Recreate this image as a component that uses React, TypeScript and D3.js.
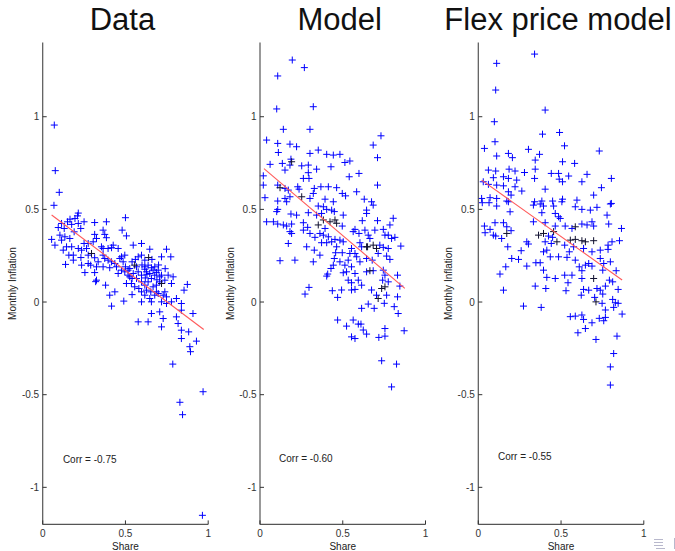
import React from "react";
import * as d3 from "d3";

type P = [number, number];

const titles = ["Data", "Model", "Flex price model"];
const corrLabels = ["Corr = -0.75", "Corr = -0.60", "Corr = -0.55"];
const xTicks = [0, 0.5, 1];
const yTicks = [-1, -0.5, 0, 0.5, 1];
const xDomain: [number, number] = [0, 1];
const yDomain: [number, number] = [-1.2, 1.4];
const xLabel = "Share";
const yLabel = "Monthly Inflation";

// Panel 1: Data
const dataBlue: P[] = [
  [0.070, 0.955], [0.076, 0.709], [0.100, 0.592], [0.068, 0.522], [0.215, 0.480], [0.500, 0.455],
  [0.210, 0.465], [0.165, 0.447], [0.195, 0.451], [0.250, 0.433], [0.150, 0.433], [0.114, 0.424],
  [0.094, 0.402], [0.130, 0.397], [0.175, 0.419], [0.215, 0.424], [0.230, 0.397], [0.190, 0.379],
  [0.054, 0.338], [0.074, 0.307], [0.104, 0.361], [0.114, 0.334], [0.144, 0.298], [0.134, 0.352],
  [0.175, 0.298], [0.124, 0.280], [0.158, 0.253], [0.138, 0.203], [0.185, 0.253], [0.185, 0.226],
  [0.231, 0.240], [0.235, 0.199], [0.255, 0.159], [0.215, 0.289], [0.250, 0.316], [0.275, 0.316],
  [0.265, 0.289], [0.235, 0.280], [0.275, 0.253], [0.314, 0.239], [0.335, 0.217], [0.164, 0.343],
  [0.325, 0.190], [0.314, 0.159], [0.325, 0.118], [0.275, 0.208], [0.290, 0.199], [0.314, 0.429],
  [0.385, 0.433], [0.365, 0.388], [0.375, 0.365], [0.385, 0.347], [0.314, 0.365], [0.325, 0.343],
  [0.305, 0.325], [0.355, 0.298], [0.365, 0.289], [0.395, 0.289], [0.416, 0.293], [0.426, 0.307],
  [0.456, 0.289], [0.365, 0.253], [0.375, 0.235], [0.395, 0.226], [0.416, 0.217], [0.436, 0.208],
  [0.365, 0.190], [0.405, 0.185], [0.380, 0.091], [0.436, 0.055], [0.405, 0.037], [0.416, -0.022],
  [0.490, 0.005], [0.480, 0.388], [0.506, 0.357], [0.547, 0.307], [0.597, 0.316], [0.647, 0.285],
  [0.748, 0.285], [0.718, 0.244], [0.774, 0.244], [0.466, 0.235], [0.486, 0.217], [0.500, 0.190],
  [0.526, 0.181], [0.540, 0.217], [0.577, 0.244], [0.617, 0.226], [0.597, 0.253], [0.637, 0.199],
  [0.657, 0.185], [0.677, 0.190], [0.698, 0.172], [0.617, 0.177], [0.597, 0.145],
  [0.577, 0.163], [0.547, 0.154], [0.516, 0.145], [0.506, 0.100], [0.536, 0.100], [0.556, 0.082],
  [0.581, 0.073], [0.617, 0.091], [0.637, 0.109], [0.657, 0.127], [0.677, 0.145], [0.707, 0.136],
  [0.758, 0.145], [0.788, 0.136], [0.778, 0.100], [0.738, 0.055], [0.738, 0.118], [0.597, 0.001],
  [0.677, 0.037], [0.657, 0.001], [0.647, 0.019], [0.617, 0.037], [0.718, 0.001], [0.698, 0.046],
  [0.748, -0.008], [0.778, 0.001], [0.808, 0.019], [0.838, -0.008], [0.838, -0.044], [0.854, 0.064],
  [0.874, 0.095], [0.707, -0.053], [0.728, -0.089], [0.657, -0.062], [0.637, -0.107], [0.577, -0.107],
  [0.808, -0.080], [0.818, -0.116], [0.838, -0.152], [0.882, -0.161], [0.908, -0.062], [0.838, -0.197],
  [0.929, -0.211], [0.718, -0.134], [0.597, 0.055], [0.627, 0.064], [0.687, 0.091], [0.718, 0.145],
  [0.567, 0.190], [0.526, 0.136], [0.476, 0.172], [0.456, 0.154], [0.446, 0.190], [0.496, 0.253],
  [0.476, 0.244], [0.969, -0.484], [0.829, -0.541], [0.845, -0.608], [0.786, -0.335], [0.965, -1.151],
  [0.889, -0.241], [0.893, -0.268], [0.320, 0.110], [0.600, 0.200], [0.630, 0.150], [0.690, 0.120],
  [0.560, 0.230], [0.660, 0.230], [0.700, 0.200], [0.620, 0.130], [0.740, 0.180], [0.540, 0.040],
  [0.617, 0.190], [0.627, 0.163], [0.647, 0.154], [0.667, 0.172], [0.687, 0.160], [0.707, 0.109],
  [0.687, 0.055], [0.653, 0.055], [0.728, 0.037], [0.748, 0.028], [0.667, 0.082], [0.597, 0.109],
  [0.567, 0.127], [0.540, 0.127], [0.516, 0.172], [0.496, 0.163],
];
const dataBlack: P[] = [
  [0.295, 0.262], [0.556, 0.199], [0.718, 0.100], [0.640, 0.240],
];
const dataFitX = [0.054, 0.973];
const dataFitY = [0.47, -0.148];

// Panel 2: Model
const modelBlue: P[] = [
  [0.195, 1.306], [0.268, 1.265], [0.107, 1.220], [0.101, 1.042], [0.322, 1.054], [0.141, 0.932],
  [0.302, 0.932], [0.731, 0.897], [0.040, 0.874], [0.107, 0.856], [0.181, 0.852], [0.221, 0.838],
  [0.684, 0.847], [0.111, 0.807], [0.352, 0.820], [0.302, 0.802], [0.187, 0.771],
  [0.403, 0.797], [0.443, 0.793], [0.483, 0.797], [0.710, 0.779], [0.061, 0.743], [0.135, 0.748],
  [0.181, 0.739], [0.292, 0.739], [0.252, 0.735], [0.342, 0.717], [0.429, 0.730], [0.513, 0.753],
  [0.543, 0.761], [0.151, 0.712], [0.292, 0.698], [0.598, 0.694], [0.539, 0.676], [0.020, 0.681],
  [0.262, 0.667], [0.296, 0.667], [0.020, 0.631], [0.107, 0.631], [0.151, 0.613],
  [0.171, 0.604], [0.228, 0.622], [0.236, 0.609], [0.328, 0.613], [0.368, 0.622], [0.413, 0.622],
  [0.463, 0.617], [0.497, 0.586], [0.517, 0.573], [0.584, 0.595], [0.710, 0.631], [0.030, 0.563],
  [0.107, 0.545], [0.151, 0.559], [0.181, 0.568], [0.302, 0.559], [0.322, 0.586],
  [0.393, 0.555], [0.443, 0.541], [0.630, 0.555], [0.674, 0.541], [0.161, 0.541],
  [0.107, 0.500], [0.101, 0.488], [0.187, 0.475], [0.221, 0.469], [0.040, 0.433], [0.081, 0.433],
  [0.107, 0.421], [0.141, 0.416], [0.161, 0.410], [0.191, 0.421], [0.181, 0.380], [0.191, 0.370],
  [0.262, 0.428], [0.262, 0.388], [0.288, 0.403], [0.302, 0.370], [0.332, 0.349],
  [0.362, 0.370], [0.393, 0.397], [0.497, 0.410], [0.503, 0.469],
  [0.449, 0.488], [0.372, 0.478], [0.352, 0.518], [0.383, 0.514], [0.403, 0.500], [0.433, 0.496],
  [0.292, 0.482], [0.342, 0.469], [0.644, 0.496], [0.644, 0.478], [0.684, 0.523], [0.618, 0.439],
  [0.710, 0.439], [0.805, 0.452], [0.785, 0.416], [0.745, 0.392], [0.694, 0.388], [0.634, 0.388],
  [0.563, 0.380], [0.574, 0.392], [0.598, 0.370], [0.654, 0.361], [0.664, 0.343], [0.755, 0.361],
  [0.775, 0.361], [0.815, 0.349], [0.795, 0.343], [0.383, 0.361], [0.413, 0.352], [0.433, 0.325],
  [0.453, 0.338], [0.483, 0.334], [0.503, 0.325], [0.403, 0.320], [0.372, 0.320], [0.171, 0.316],
  [0.282, 0.298], [0.328, 0.280], [0.362, 0.253], [0.463, 0.298], [0.457, 0.266], [0.497, 0.266],
  [0.543, 0.262], [0.574, 0.262], [0.553, 0.289], [0.604, 0.320], [0.614, 0.298],
  [0.724, 0.307], [0.745, 0.295], [0.775, 0.289], [0.851, 0.302],
  [0.714, 0.262], [0.765, 0.248], [0.785, 0.230], [0.678, 0.226], [0.644, 0.235], [0.604, 0.217],
  [0.584, 0.244], [0.533, 0.226], [0.483, 0.217], [0.449, 0.235], [0.443, 0.199], [0.429, 0.181],
  [0.409, 0.151], [0.403, 0.140], [0.121, 0.223], [0.211, 0.226], [0.322, 0.217], [0.513, 0.199],
  [0.553, 0.190], [0.574, 0.154], [0.523, 0.163], [0.503, 0.158], [0.533, 0.118], [0.553, 0.104],
  [0.594, 0.118], [0.614, 0.091], [0.644, 0.163], [0.684, 0.169],
  [0.745, 0.172], [0.755, 0.145], [0.831, 0.145], [0.741, 0.118], [0.775, 0.109], [0.845, 0.086],
  [0.296, 0.079], [0.272, 0.043], [0.437, 0.061], [0.493, 0.065], [0.469, 0.025], [0.553, 0.065],
  [0.574, 0.068], [0.674, 0.065], [0.704, 0.037], [0.765, 0.037],
  [0.751, -0.007], [0.831, 0.028], [0.614, -0.034], [0.654, -0.011], [0.690, -0.034],
  [0.811, -0.025], [0.835, -0.062], [0.469, -0.097], [0.523, -0.130], [0.563, -0.097], [0.594, -0.119],
  [0.610, -0.119], [0.624, -0.151], [0.644, -0.173], [0.553, -0.188], [0.574, -0.197], [0.718, -0.191],
  [0.755, -0.184], [0.755, -0.143], [0.871, -0.155], [0.735, -0.317], [0.825, -0.335], [0.795, -0.458],
];
const modelBlack: P[] = [
  [0.121, 0.617], [0.191, 0.757], [0.252, 0.568], [0.383, 0.443], [0.423, 0.433], [0.453, 0.443],
  [0.463, 0.425], [0.352, 0.416], [0.644, 0.298], [0.684, 0.307], [0.704, 0.289], [0.735, 0.073],
  [0.755, 0.082], [0.714, 0.019], [0.664, 0.169], [0.650, 0.298],
];
const modelFitX = [0.024, 0.875];
const modelFitY = [0.72, 0.074];

// Panel 3: Flex price model
const flexBlue: P[] = [
  [0.340, 1.338], [0.111, 1.288], [0.105, 1.144], [0.404, 1.036], [0.097, 0.973], [0.388, 0.906],
  [0.491, 0.915], [0.101, 0.865], [0.521, 0.843], [0.037, 0.829], [0.303, 0.824], [0.370, 0.797],
  [0.182, 0.802], [0.206, 0.779], [0.111, 0.788], [0.731, 0.815], [0.344, 0.766], [0.509, 0.757],
  [0.582, 0.748], [0.061, 0.712], [0.105, 0.707], [0.186, 0.717], [0.222, 0.707], [0.279, 0.699],
  [0.344, 0.717], [0.441, 0.694], [0.485, 0.694], [0.546, 0.680], [0.657, 0.689], [0.091, 0.671],
  [0.152, 0.676], [0.182, 0.667], [0.232, 0.658], [0.340, 0.667], [0.489, 0.663], [0.509, 0.649],
  [0.626, 0.649], [0.804, 0.667], [0.030, 0.649], [0.061, 0.635], [0.111, 0.631], [0.152, 0.627],
  [0.222, 0.622], [0.263, 0.599], [0.404, 0.609], [0.744, 0.617], [0.182, 0.595], [0.198, 0.577],
  [0.697, 0.577], [0.020, 0.559], [0.071, 0.563], [0.111, 0.559], [0.172, 0.545], [0.340, 0.541],
  [0.384, 0.545], [0.449, 0.545], [0.509, 0.555], [0.596, 0.550], [0.804, 0.532],
  [0.024, 0.536], [0.065, 0.536], [0.111, 0.518], [0.182, 0.541], [0.192, 0.487], [0.333, 0.523],
  [0.374, 0.529], [0.394, 0.518], [0.384, 0.482], [0.455, 0.518], [0.465, 0.478], [0.505, 0.541],
  [0.586, 0.514], [0.626, 0.500], [0.677, 0.496], [0.717, 0.511], [0.798, 0.529], [0.778, 0.469],
  [0.485, 0.460], [0.495, 0.451], [0.333, 0.433], [0.404, 0.428], [0.465, 0.410], [0.525, 0.410],
  [0.566, 0.397], [0.626, 0.421], [0.657, 0.416], [0.687, 0.433], [0.697, 0.410],
  [0.788, 0.421], [0.865, 0.397], [0.037, 0.410], [0.071, 0.392], [0.041, 0.374], [0.101, 0.428],
  [0.152, 0.428], [0.172, 0.406], [0.198, 0.385], [0.091, 0.361], [0.105, 0.356],
  [0.141, 0.343], [0.293, 0.325], [0.303, 0.313], [0.424, 0.356],
  [0.449, 0.349], [0.404, 0.325], [0.441, 0.316], [0.522, 0.307],
  [0.576, 0.298], [0.550, 0.271], [0.636, 0.289], [0.687, 0.271], [0.737, 0.280], [0.784, 0.307],
  [0.808, 0.325], [0.853, 0.331], [0.784, 0.284], [0.178, 0.298], [0.259, 0.277], [0.202, 0.235],
  [0.243, 0.230], [0.394, 0.271], [0.414, 0.280], [0.435, 0.244], [0.485, 0.244], [0.536, 0.241],
  [0.586, 0.226], [0.610, 0.190], [0.647, 0.199], [0.667, 0.208], [0.687, 0.194], [0.737, 0.235],
  [0.758, 0.208], [0.752, 0.172], [0.798, 0.217], [0.833, 0.169], [0.166, 0.190], [0.131, 0.151],
  [0.293, 0.194], [0.348, 0.212], [0.374, 0.212], [0.394, 0.172], [0.414, 0.133], [0.465, 0.127],
  [0.522, 0.145], [0.566, 0.145], [0.626, 0.127], [0.626, 0.169], [0.542, 0.104],
  [0.530, 0.061], [0.636, 0.068], [0.667, 0.064], [0.717, 0.073], [0.737, 0.064], [0.768, 0.086],
  [0.792, 0.118], [0.812, 0.109], [0.845, 0.068], [0.152, 0.064], [0.344, 0.086], [0.408, 0.073],
  [0.622, 0.037], [0.703, 0.025], [0.752, 0.043], [0.812, 0.014], [0.828, -0.004],
  [0.845, -0.007], [0.818, -0.029], [0.748, -0.007], [0.768, -0.043], [0.273, -0.022], [0.380, -0.029],
  [0.556, -0.079], [0.586, -0.076], [0.626, -0.070], [0.636, -0.094], [0.687, -0.112], [0.731, -0.088],
  [0.758, -0.101], [0.768, -0.083], [0.869, -0.065], [0.647, -0.143], [0.602, -0.166], [0.711, -0.202],
  [0.838, -0.184], [0.818, -0.278], [0.798, -0.350], [0.798, -0.448],
];
const flexBlack: P[] = [
  [0.172, 0.370], [0.364, 0.361], [0.394, 0.370], [0.475, 0.325], [0.556, 0.334], [0.586, 0.338],
  [0.647, 0.325], [0.626, 0.331], [0.697, 0.331], [0.697, 0.127], [0.711, 0.001], [0.586, 0.406],
  [0.455, 0.380],
];
const flexFitX = [0.02, 0.869];
const flexFitY = [0.658, 0.119];

const panelsBlue = [dataBlue, modelBlue, flexBlue];
const panelsBlack = [dataBlack, modelBlack, flexBlack];
const fitsX = [dataFitX, modelFitX, flexFitX];
const fitsY = [dataFitY, modelFitY, flexFitY];
const corrPos: P[] = [[0.122, -0.866], [0.115, -0.862], [0.119, -0.852]];

const W = 675;
const H = 551;
const panelLeft = [42.7, 260, 478.3];
const panelWidth = 165.5;
const plotTop = 42.6;
const plotBottom = 524.4;
const FONT = "'Liberation Sans', Arial, Helvetica, sans-serif";

function Cross({ x, y, color }: { x: number; y: number; color: string }) {
  const r = 3.5;
  return (
    <path
      d={`M${x - r},${y}H${x + r}M${x},${y - r}V${y + r}`}
      stroke={color}
      strokeWidth={1}
      fill="none"
    />
  );
}

function Panel({ i }: { i: number }) {
  const x = d3.scaleLinear().domain(xDomain).range([panelLeft[i], panelLeft[i] + panelWidth]);
  const y = d3.scaleLinear().domain(yDomain).range([plotBottom, plotTop]);
  const fitLine = d3
    .line<number>()
    .x((_, k) => x(fitsX[i][k]))
    .y((_, k) => y(fitsY[i][k]));
  const cx = (panelLeft[i] + panelLeft[i] + panelWidth) / 2;
  const axisColor = "#555";
  return (
    <g>
      <text x={cx - 3} y={30} textAnchor="middle" fontFamily={FONT} fontSize={31} fill="#111">
        {titles[i]}
      </text>
      {panelsBlue[i].map((p, k) => (
        <Cross key={"b" + k} x={x(p[0])} y={y(p[1])} color="#0000ff" />
      ))}
      {panelsBlack[i].map((p, k) => (
        <Cross key={"k" + k} x={x(p[0])} y={y(p[1])} color="#101030" />
      ))}
      <path d={fitLine(fitsX[i]) || ""} stroke="#ff5a5a" strokeWidth={1.1} fill="none" />
      <line x1={x(0)} x2={x(0)} y1={plotTop} y2={plotBottom} stroke={axisColor} strokeWidth={1.2} />
      <line x1={x(0)} x2={x(1)} y1={plotBottom} y2={plotBottom} stroke={axisColor} strokeWidth={1.2} />
      {yTicks.map((t) => (
        <g key={"yt" + t}>
          <line x1={x(0)} x2={x(0) + 4} y1={y(t)} y2={y(t)} stroke="#333" strokeWidth={1} />
          <text
            x={x(0) - 3.5}
            y={y(t)}
            dy="0.35em"
            textAnchor="end"
            fontFamily={FONT}
            fontSize={10}
            fill="#333"
          >
            {String(t)}
          </text>
        </g>
      ))}
      {xTicks.map((t) => (
        <g key={"xt" + t}>
          <line x1={x(t)} x2={x(t)} y1={plotBottom} y2={plotBottom - 4} stroke="#333" strokeWidth={1} />
          <text x={x(t)} y={537} textAnchor="middle" fontFamily={FONT} fontSize={10} fill="#333">
            {String(t)}
          </text>
        </g>
      ))}
      <text x={cx} y={550} textAnchor="middle" fontFamily={FONT} fontSize={10} fill="#222">
        {xLabel}
      </text>
      <text
        transform={`translate(${panelLeft[i] - 26.5},${(plotTop + plotBottom) / 2}) rotate(-90)`}
        textAnchor="middle"
        fontFamily={FONT}
        fontSize={10}
        fill="#222"
      >
        {yLabel}
      </text>
      <text
        x={x(corrPos[i][0])}
        y={y(corrPos[i][1])}
        fontFamily={FONT}
        fontSize={10}
        fill="#222"
      >
        {corrLabels[i]}
      </text>
    </g>
  );
}

export default function App() {
  return (
    <svg
      width={W}
      height={H}
      viewBox={`0 0 ${W} ${H}`}
      style={{ position: "absolute", left: 0, top: 0, background: "#fff" }}
    >
      <rect x={0} y={0} width={W} height={H} fill="#fff" />
      {[0, 1, 2].map((i) => (
        <Panel key={i} i={i} />
      ))}
      <g stroke="#b8b8cc" strokeWidth={1}>
        <line x1={654} x2={663} y1={539.5} y2={539.5} />
        <line x1={654} x2={663} y1={542.5} y2={542.5} />
        <line x1={654} x2={663} y1={545.5} y2={545.5} />
        <line x1={656} x2={665} y1={548.5} y2={548.5} />
        <line x1={674.5} x2={674.5} y1={538} y2={549} />
      </g>
    </svg>
  );
}
